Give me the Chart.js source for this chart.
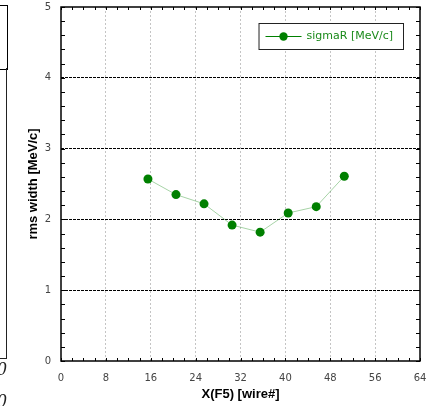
<!DOCTYPE html>
<html>
<head>
<meta charset="utf-8">
<script src="https://cdn.jsdelivr.net/npm/chart.js@4/dist/chart.umd.min.js"></script>
<style>
  html, body { margin: 0; padding: 0; background: #fff; }
  #wrap { position: relative; width: 434px; height: 406px; overflow: hidden; }
  #c { position: absolute; left: 0; top: 0; }
  .frag { position: absolute; }
</style>
</head>
<body>
<div id="wrap">
  <canvas id="c" width="434" height="406"></canvas>
  <!-- fragment of the neighbouring chart on the left edge -->
  <div class="frag" style="left:-20px; top:5px; width:26px; height:63px; border:1.5px solid #000;"></div>
  <div class="frag" style="left:-20px; top:68px; width:26px; height:290px; border-right:1.5px solid #222; border-bottom:1.5px solid #222;"></div>
  <div class="frag" style="left:-3px; top:358px; font:italic 19px 'Liberation Serif', serif; color:#222;">0</div>
  <div class="frag" style="left:-3px; top:390px; font:italic 19px 'Liberation Serif', serif; color:#222;">0</div>
</div>
<script>
// ---- data ----
const xPositions = [15.5, 20.5, 25.5, 30.5, 35.5, 40.5, 45.5, 50.5];
const sigmaR     = [2.57, 2.35, 2.22, 1.92, 1.82, 2.09, 2.18, 2.61];
const seriesLabel = 'sigmaR [MeV/c]';
const xTitle = 'X(F5) [wire#]';
const yTitle = 'rms width [MeV/c]';
const xRange = [0, 64], xStep = 8, xMinorStep = 2;
const yRange = [0, 5], yStep = 1, yMinorStep = 0.2;

const GREEN = '#008000';
const tickFont = { family: "'DejaVu Sans', sans-serif", size: 10 };
const titleFont = { family: "'Liberation Sans Narrow', 'Liberation Sans', sans-serif", size: 13, weight: 'bold' };

const framePlugin = {
  id: 'frame',
  afterDatasetsDraw(chart) {
    const {ctx, chartArea: a, scales: {x, y}} = chart;
    ctx.save();
    ctx.strokeStyle = '#000';
    ctx.lineWidth = 1;
    for (let v = yRange[0]; v <= yRange[1] + 1e-9; v += yMinorStep) {
      const py = Math.round(y.getPixelForValue(v)) + 0.5;
      ctx.beginPath();
      ctx.moveTo(a.left, py); ctx.lineTo(a.left + 4, py);
      ctx.moveTo(a.right, py); ctx.lineTo(a.right - 4, py);
      ctx.stroke();
    }
    for (let v = xRange[0]; v <= xRange[1] + 1e-9; v += xMinorStep) {
      const px = Math.round(x.getPixelForValue(v)) + 0.5;
      ctx.beginPath();
      ctx.moveTo(px, a.bottom); ctx.lineTo(px, a.bottom - 3);
      ctx.moveTo(px, a.top); ctx.lineTo(px, a.top + 3);
      ctx.stroke();
    }
    ctx.lineWidth = 1.5;
    ctx.strokeRect(a.left, a.top, a.right - a.left, a.bottom - a.top);
    ctx.restore();
  }
};

const legendPlugin = {
  id: 'boxLegend',
  afterDraw(chart) {
    const {ctx, chartArea: a} = chart;
    const ds = chart.data.datasets[0];
    ctx.save();
    ctx.font = "11px 'DejaVu Sans', sans-serif";
    const tw = ctx.measureText(ds.label).width;
    const w = 8 + 36 + 6 + tw + 8;
    const h = 26;
    const bx = a.right - 17 - w, by = a.top + 16;
    ctx.fillStyle = '#fff';
    ctx.fillRect(bx, by, w, h);
    ctx.strokeStyle = '#222';
    ctx.lineWidth = 1;
    ctx.strokeRect(bx + 0.5, by + 0.5, w, h);
    const cy = by + h / 2 + 0.5;
    ctx.strokeStyle = GREEN;
    ctx.lineWidth = 1.2;
    ctx.beginPath(); ctx.moveTo(bx + 7, cy); ctx.lineTo(bx + 43, cy); ctx.stroke();
    ctx.fillStyle = GREEN;
    ctx.beginPath(); ctx.arc(bx + 25, cy, 4.2, 0, Math.PI * 2); ctx.fill();
    ctx.fillStyle = '#1a8a1a';
    ctx.textBaseline = 'middle';
    ctx.fillText(ds.label, bx + 48, cy);
    ctx.restore();
  }
};

new Chart(document.getElementById('c'), {
  type: 'line',
  data: {
    datasets: [{
      label: seriesLabel,
      data: xPositions.map((xv, i) => ({ x: xv, y: sigmaR[i] })),
      borderColor: 'rgba(0,128,0,0.35)',
      borderWidth: 1,
      pointBackgroundColor: GREEN,
      pointBorderColor: GREEN,
      pointRadius: 4.5,
      pointBorderWidth: 0,
      tension: 0,
      fill: false
    }]
  },
  options: {
    responsive: false,
    animation: false,
    events: [],
    layout: { padding: { top: 7, right: 14, left: 0, bottom: 0 } },
    plugins: { legend: { display: false }, tooltip: { enabled: false } },
    scales: {
      x: {
        type: 'linear',
        min: xRange[0], max: xRange[1],
        afterFit(s) { s.height = 45; s.paddingLeft = 0; s.paddingRight = 0; },
        ticks: { stepSize: xStep, font: tickFont, color: '#444', padding: 11, maxRotation: 0 },
        grid: {
          drawTicks: false,
          color: (c) => (c.tick && (c.tick.value === xRange[0] || c.tick.value === xRange[1])) ? 'rgba(0,0,0,0)' : '#c4c4c4',
          lineWidth: 1
        },
        border: { display: false, dash: [2, 2] },
        title: { display: true, text: xTitle, font: titleFont, color: '#000', padding: { top: 0, bottom: 4 } }
      },
      y: {
        min: yRange[0], max: yRange[1],
        afterFit(s) { s.width = 61; s.paddingTop = 0; s.paddingBottom = 0; },
        ticks: { stepSize: yStep, font: tickFont, color: '#444', padding: 10 },
        grid: {
          drawTicks: false,
          color: (c) => (c.tick && (c.tick.value === yRange[0] || c.tick.value === yRange[1])) ? 'rgba(0,0,0,0)' : '#000',
          lineWidth: 1
        },
        border: { display: false, dash: [3, 1] },
        title: { display: true, text: yTitle, font: titleFont, color: '#000', padding: { top: 26, bottom: 0 } }
      }
    }
  },
  plugins: [framePlugin, legendPlugin]
});
</script>
</body>
</html>
